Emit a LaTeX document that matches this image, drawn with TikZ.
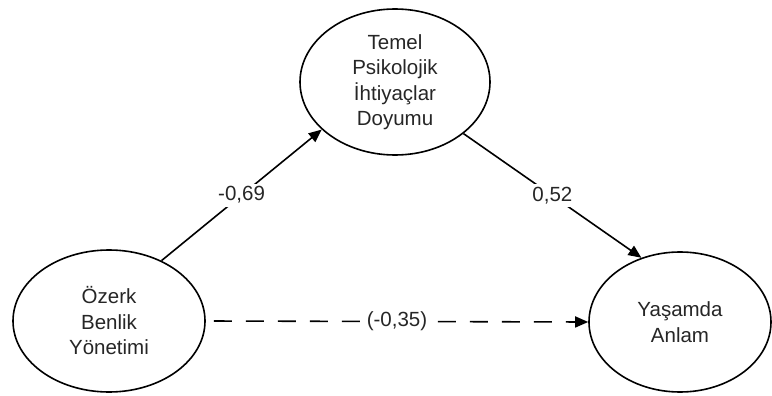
\documentclass[tikz,border=0pt]{standalone}
\usepackage{fontspec}
\setmainfont{Liberation Sans}
\usetikzlibrary{shapes.geometric,arrows.meta}
\definecolor{textgray}{HTML}{262626}
\begin{document}
\begin{tikzpicture}[x=1pt,y=-1pt,
  latent/.style={ellipse,draw,line width=1.6pt,inner sep=0pt,align=center,
    font=\fontsize{20.5}{25.5}\selectfont,text=textgray},
  pathline/.style={line width=1.6pt,-{Triangle[length=13pt,width=11pt]}},
  lbl/.style={fill=white,inner ysep=3pt,inner xsep=7pt,font=\fontsize{20.5}{24}\selectfont,text=textgray}]
\useasboundingbox (0,0) rectangle (772,396);
\node[latent,minimum width=190pt,minimum height=146pt] (tp) at (395,82) {Temel\\Psikolojik\\İhtiyaçlar\\Doyumu};
\node[latent,minimum width=192pt,minimum height=142pt] (oz) at (109,321) {Özerk\\Benlik\\Yönetimi};
\node[latent,minimum width=182pt,minimum height=140pt] (ya) at (680,322) {Yaşamda\\Anlam};
\draw[pathline] (oz.49) -- node[lbl,inner xsep=3pt]{-0,69} (tp.213);
\draw[pathline] (tp.-37) -- node[lbl,inner xsep=3pt]{0,52} (ya.121.6);
\draw[pathline,dash pattern=on 18pt off 14pt,dash phase=24pt] (oz.east) -- node[lbl]{(-0,35)} (ya.west);
\end{tikzpicture}
\end{document}
